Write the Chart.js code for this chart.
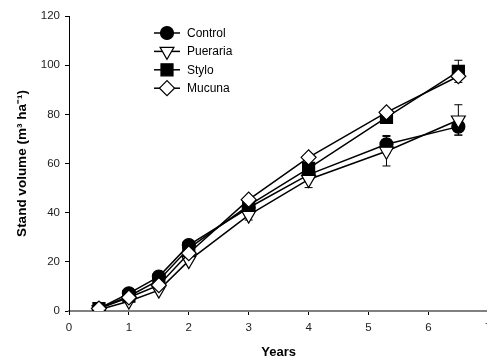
<!DOCTYPE html>
<html>
<head>
<meta charset="utf-8">
<script src="https://cdn.jsdelivr.net/npm/chart.js@4/dist/chart.umd.min.js"></script>
<style>
  html, body { margin:0; padding:0; background:#fff; overflow:hidden; }
  canvas { display:block; }
</style>
</head>
<body>
<canvas id="standChart" width="498" height="360"></canvas>
<script>
// stand volume by cover crop treatment
const years = [0.5, 1, 1.5, 2, 3, 4, 5.3, 6.5];
const control  = [1, 7.2, 14, 26.8, 42, 55.5, 67.8, 75];
const pueraria = [0.5, 4, 8.5, 20.5, 39, 53.5, 65, 77.7];
const stylo    = [1, 6, 12.5, 25.5, 43, 58, 78.8, 97.5];
const mucuna   = [1, 5.5, 10.5, 23.5, 45.3, 62.5, 80.8, 95.5];
// standard errors
const controlErr  = [0, 0, 0, 0, 1, 2, 3.6, 3.4];
const puerariaErr = [0, 0, 0, 0, 2, 3.3, 6, 6.2];
const styloErr    = [0, 0, 0, 0, 1, 1, 1, 4.5];
const mucunaErr   = [0, 0, 0, 0, 0, 0, 0, 0];
const xTicks = [0, 1, 2, 3, 4, 5, 6, 7];
const yTicks = [0, 20, 40, 60, 80, 100, 120];

const FONT = '"Liberation Sans", Arial, sans-serif';

function pts(vals){ return vals.map((v,i)=>({x: years[i], y: v})); }

const series = [
  { label:'Control',  data: pts(control),  err: controlErr,  style:'circle',   fill:'#000', r:6.5, rot:0,   order:3 },
  { label:'Pueraria', data: pts(pueraria), err: puerariaErr, style:'triangle', fill:'#fff', r:8,   rot:180, order:2 },
  { label:'Stylo',    data: pts(stylo),    err: styloErr,    style:'rect',     fill:'#000', r:8.5, rot:0,   order:1 },
  { label:'Mucuna',   data: pts(mucuna),   err: mucunaErr,   style:'rectRot',  fill:'#fff', r:7.5, rot:0,   order:0 },
];

// whiskers under the markers
const errorBars = {
  id:'errorBars',
  beforeDatasetsDraw(chart){
    const {ctx, scales:{x, y}} = chart;
    ctx.save();
    ctx.strokeStyle = '#000';
    ctx.lineWidth = 1;
    series.forEach(s => {
      s.data.forEach((p, i) => {
        const e = s.err[i];
        if(!e) return;
        const px = x.getPixelForValue(p.x);
        const top = y.getPixelForValue(p.y + e);
        const bot = y.getPixelForValue(p.y - e);
        ctx.beginPath();
        ctx.moveTo(px, top); ctx.lineTo(px, bot);
        ctx.moveTo(px-4, top); ctx.lineTo(px+4, top);
        ctx.moveTo(px-4, bot); ctx.lineTo(px+4, bot);
        ctx.stroke();
      });
    });
    ctx.restore();
  }
};

// legend with a line through each marker
const lineLegend = {
  id:'lineLegend',
  afterDraw(chart){
    const ctx = chart.ctx;
    const cx = 167, y0 = 33, step = 18.4;
    ctx.save();
    series.forEach((s, i) => {
      const cy = y0 + i*step;
      ctx.strokeStyle = '#000';
      ctx.lineWidth = 1.5;
      ctx.beginPath(); ctx.moveTo(154, cy); ctx.lineTo(180, cy); ctx.stroke();
      ctx.fillStyle = s.fill;
      ctx.lineWidth = 1.2;
      Chart.helpers.drawPoint(ctx, { pointStyle: s.style, radius: s.r, rotation: s.rot, borderWidth: 1.2 }, cx, cy);
      ctx.fillStyle = '#000';
      ctx.font = '12px ' + FONT;
      ctx.textBaseline = 'middle';
      ctx.fillText(s.label, 187, cy + 0.5);
    });
    ctx.restore();
  }
};

new Chart(document.getElementById('standChart'), {
  type:'line',
  data:{
    datasets: series.map(s => ({
      label: s.label,
      data: s.data,
      order: s.order,
      borderColor:'#000',
      borderWidth:1.5,
      tension:0,
      pointStyle: s.style,
      pointRotation: s.rot,
      pointRadius: s.r,
      pointBackgroundColor: s.fill,
      pointBorderColor:'#000',
      pointBorderWidth:1.2,
      fill:false
    }))
  },
  options:{
    responsive:false,
    animation:false,
    devicePixelRatio:1,
    layout:{ padding:{ top:16, right:3, left:0, bottom:0 } },
    plugins:{ legend:{ display:false }, tooltip:{ enabled:false } },
    scales:{
      x:{
        type:'linear', min:0, max:7,
        afterBuildTicks: a => { a.ticks = xTicks.map(v => ({value:v})); },
        afterFit: a => { a.height = 49; },
        border:{ display:true, color:'#808080', width:2 },
        grid:{ drawOnChartArea:false, drawTicks:true, tickLength:4, color:'#000' },
        ticks:{ color:'#222', padding:6, font:{ family:FONT, size:11.5 } },
        title:{ display:true, text:'Years', color:'#000', padding:{ top:0, bottom:0 },
                font:{ family:FONT, size:13, weight:'bold' } }
      },
      y:{
        type:'linear', min:0, max:120,
        afterBuildTicks: a => { a.ticks = yTicks.map(v => ({value:v})); },
        afterFit: a => { a.width = 69; },
        border:{ display:true, color:'#000', width:1 },
        grid:{ drawOnChartArea:false, drawTicks:true, tickLength:4, color:'#000' },
        ticks:{ color:'#222', padding:5, font:{ family:FONT, size:11.5 } },
        title:{ display:true, text:'Stand volume (m³ ha⁻¹)', color:'#000', padding:{ top:14, bottom:0 },
                font:{ family:FONT, size:13.5, weight:'bold' } }
      }
    }
  },
  plugins:[errorBars, lineLegend]
});
</script>
</body>
</html>
